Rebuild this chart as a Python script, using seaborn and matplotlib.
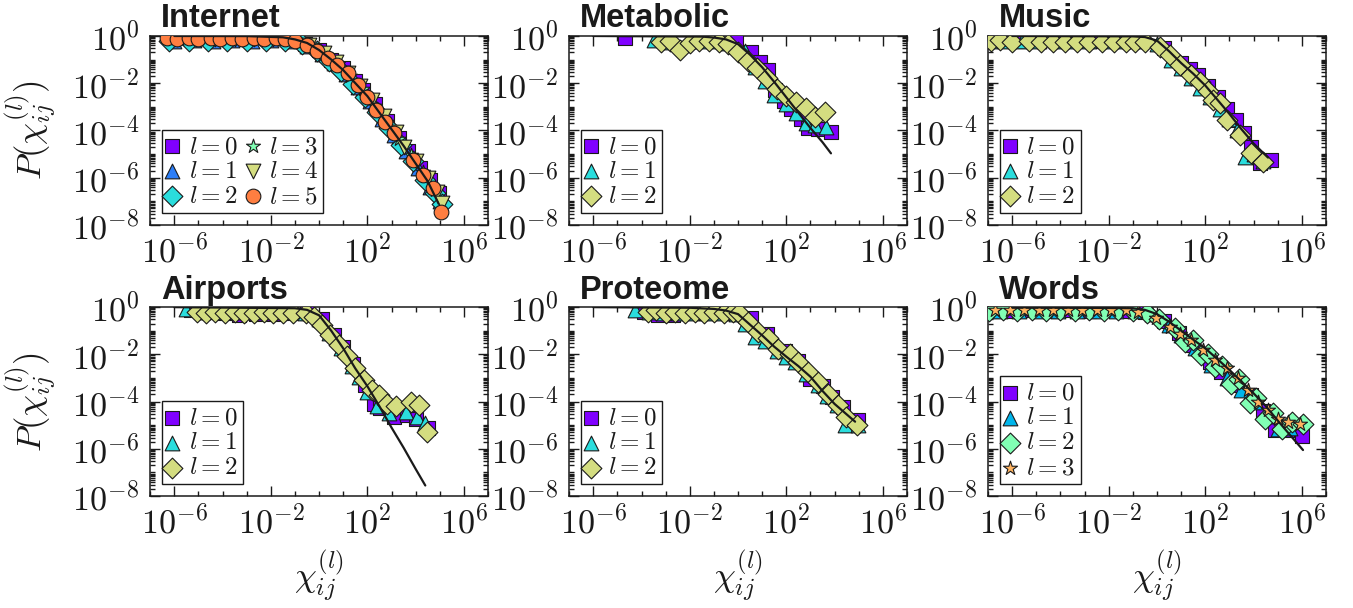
import matplotlib
matplotlib.use("Agg")
import matplotlib.pyplot as plt
import matplotlib.ticker as mticker
import numpy as np
import seaborn as sns

# values are log10 of x and y

# Internet, l = 0..5
internet_logx = [
    [-6.1, -5.3, -4.5, -3.7, -2.9, -2.1, -1.3, -0.6, 0.0, 0.5, 1.0, 1.5, 1.8, 2.3, 2.8, 3.3, 3.7, 4.2, 4.6, 4.95],
    [-6.0, -5.2, -4.4, -3.6, -2.8, -2.0, -1.2, -0.5, 0.1, 0.6, 1.1, 1.6, 2.1, 2.6, 3.1, 3.6, 4.1, 4.6, 5.0],
    [-6.2, -5.4, -4.6, -3.8, -3.0, -2.2, -1.4, -0.7, -0.1, 0.4, 0.9, 1.4, 1.9, 2.4, 2.9, 3.4, 3.9, 4.4, 4.8, 5.1],
    [-5.8, -5.0, -4.2, -3.4, -2.6, -1.8, -1.0, -0.3, 0.3, 0.8, 1.3, 1.8, 2.3, 2.8, 3.3, 3.8, 4.3, 4.8],
    [-5.9, -5.1, -4.3, -3.5, -2.7, -1.9, -1.1, -0.4, 0.2, 0.7, 1.2, 1.7, 2.2, 2.7, 3.2, 3.5, 4.0, 4.5, 4.9, 5.1],
    [-6.3, -5.9, -5.4, -5.0, -4.5, -4.1, -3.6, -3.2, -2.7, -2.3, -1.8, -1.4, -1.0, -0.5, -0.1, 0.35, 0.75,
     1.2, 1.6, 2.0, 2.35, 2.75, 3.1, 3.9, 4.3, 4.7, 5.05],
]
internet_logy = [
    [-0.15, -0.14, -0.15, -0.14, -0.15, -0.14, -0.18, -0.33, -0.6, -1.0, -1.38, -1.9, -2.3, -2.9, -3.6, -4.3, -4.85, -5.6, -6.1, -6.65],
    [-0.2, -0.19, -0.2, -0.19, -0.2, -0.19, -0.22, -0.42, -0.75, -1.15, -1.6, -2.15, -2.75, -3.5, -4.2, -4.85, -5.6, -6.4, -7.0],
    [-0.2, -0.21, -0.2, -0.21, -0.2, -0.21, -0.22, -0.35, -0.65, -1.05, -1.5, -2.05, -2.6, -3.2, -3.9, -4.6, -5.3, -6.1, -6.65, -7.1],
    [-0.14, -0.15, -0.14, -0.15, -0.14, -0.15, -0.17, -0.4, -0.8, -1.2, -1.7, -2.25, -2.95, -3.65, -4.35, -5.05, -5.75, -6.5],
    [-0.12, -0.13, -0.12, -0.13, -0.12, -0.13, -0.15, -0.38, -0.72, -1.1, -1.55, -2.1, -2.7, -3.4, -4.05, -4.69, -5.3, -6.0, -6.6, -7.06],
    [-0.1, -0.12, -0.1, -0.12, -0.1, -0.12, -0.1, -0.12, -0.1, -0.12, -0.1, -0.12, -0.2, -0.38, -0.66, -0.95, -1.23,
     -1.58, -2.08, -2.57, -3.14, -3.63, -4.12, -5.25, -5.89, -6.45, -7.44],
]
internet_fit_logx = [-6.0, -3.0, -1.5, -1.0, -0.5, 0.0, 0.5, 1.0, 1.5, 2.0, 2.5, 3.0, 3.5, 4.0, 4.5, 4.95]
internet_fit_logy = [-0.005, -0.01, -0.06, -0.15, -0.3, -0.6, -1.0, -1.45, -2.0, -2.55, -3.25, -3.95, -4.65, -5.4, -6.15, -7.1]

# Metabolic, l = 0..2
metabolic_logx = [
    [-4.7, -3.0, -1.5, -0.1, 0.55, 0.9, 1.25, 1.55, 1.9, 2.2, 2.6, 2.9, 3.3, 3.85],
    [-3.5, -2.8, -2.0, -1.2, -0.4, 0.3, 0.7, 1.1, 1.5, 2.0, 2.4, 2.8, 3.2, 3.65],
    [-3.2, -2.8, -2.4, -2.0, -1.6, -1.2, -0.8, -0.4, 0.0, 0.4, 0.8, 1.2, 1.6, 2.0, 2.4, 2.8, 3.2, 3.6],
]
metabolic_logy = [
    [-0.1, -0.12, -0.12, -0.2, -0.7, -1.1, -1.45, -2.3, -2.75, -3.1, -3.5, -3.9, -3.95, -4.05],
    [-0.17, -0.24, -0.2, -0.2, -0.3, -0.65, -1.3, -1.9, -2.5, -2.9, -3.25, -3.7, -3.75, -3.85],
    [-0.28, -0.2, -0.59, -0.3, -0.2, -0.22, -0.24, -0.35, -0.7, -1.05, -1.35, -1.8, -2.25, -2.55, -2.8, -3.05, -3.45, -3.2],
]
metabolic_fit_logx = [-6.0, -1.5, -1.0, -0.5, 0.0, 0.5, 1.0, 1.5, 2.0, 2.5, 3.0, 3.5, 3.85]
metabolic_fit_logy = [-0.005, -0.03, -0.07, -0.15, -0.35, -0.8, -1.33, -1.95, -2.6, -3.25, -3.9, -4.5, -4.97]

# Music, l = 0..2
music_logx = [
    [-6.9, -5.5, -4.0, -2.5, -1.0, 0.3, 1.0, 1.35, 1.7, 2.1, 2.53, 2.9, 3.29, 3.6, 3.91, 4.26, 4.74],
    [-6.9, -6.3, -5.6, -4.9, -4.2, -3.5, -2.8, -2.1, -1.4, -0.7, 0.0, 0.6, 1.0, 1.4, 1.8, 2.2, 2.6, 3.0, 3.3, 3.64, 4.0, 4.4],
    [-6.88, -6.5, -6.0, -5.3, -4.8, -4.3, -3.8, -3.3, -2.8, -2.3, -1.8, -1.3, -0.9, -0.5, 0.11, 0.52, 0.94,
     1.42, 1.77, 2.1, 2.32, 2.6, 2.88, 3.43, 3.91, 4.4],
]
music_logy = [
    [-0.17, -0.2, -0.2, -0.2, -0.2, -0.5, -1.16, -1.4, -1.65, -2.1, -2.57, -3.1, -3.56, -4.1, -4.69, -5.39, -5.25],
    [-0.2, -0.22, -0.2, -0.22, -0.2, -0.22, -0.2, -0.22, -0.2, -0.22, -0.35, -1.02, -1.35, -1.8, -2.2, -2.6, -3.1, -3.5, -4.0, -5.11, -5.0, -5.3],
    [-0.2, -0.17, -0.24, -0.2, -0.24, -0.24, -0.24, -0.24, -0.24, -0.24, -0.24, -0.24, -0.24, -0.25, -0.45, -0.8, -1.23,
     -1.65, -1.94, -2.35, -2.71, -2.85, -3.56, -4.19, -4.97, -5.33],
]
music_fit_logx = [-6.0, -1.0, -0.5, 0.0, 0.5, 1.0, 1.5, 2.0, 2.5, 3.0, 3.5, 4.0, 4.6]
music_fit_logy = [-0.005, -0.02, -0.05, -0.2, -0.65, -1.15, -1.6, -2.1, -2.7, -3.3, -3.95, -4.55, -5.15]

# Airports, l = 0..2
airports_logx = [
    [-5.3, -4.6, -3.9, -3.3, -2.6, -1.9, -1.2, -0.5, 0.1, 0.6, 1.0, 1.4, 1.92, 2.27, 2.54, 3.1, 3.65, 4.0, 4.5],
    [-5.5, -4.8, -4.1, -3.4, -2.7, -2.0, -1.3, -0.6, 0.0, 0.4, 0.9, 1.35, 1.65, 2.0, 2.4, 2.89, 3.58, 4.07, 4.4],
    [-5.06, -4.7, -4.3, -3.9, -3.5, -3.1, -2.7, -2.3, -1.9, -1.5, -1.1, -0.55, -0.2, 0.12, 0.47, 0.81, 1.16,
     1.5, 1.85, 2.2, 2.5, 2.82, 3.17, 3.79, 4.14, 4.48],
]
airports_logy = [
    [-0.13, -0.2, -0.27, -0.34, -0.3, -0.3, -0.27, -0.27, -0.5, -1.19, -1.7, -2.4, -3.3, -4.1, -4.29, -4.65, -4.58, -4.75, -5.1],
    [-0.1, -0.2, -0.2, -0.2, -0.2, -0.2, -0.2, -0.25, -0.5, -1.1, -1.75, -2.5, -2.95, -3.59, -4.2, -4.5, -4.43, -4.65, -4.9],
    [-0.2, -0.24, -0.2, -0.24, -0.2, -0.24, -0.24, -0.2, -0.24, -0.24, -0.24, -0.27, -0.42, -0.76, -1.2, -1.6, -2.09,
     -2.6, -3.1, -3.5, -3.73, -4.1, -4.2, -4.0, -4.15, -5.28],
]
airports_fit_logx = [-6.0, -1.0, -0.5, 0.0, 0.5, 1.0, 1.5, 2.0, 2.5, 3.0, 3.5, 4.0, 4.4]
airports_fit_logy = [-0.005, -0.05, -0.12, -0.35, -1.0, -1.75, -2.6, -3.35, -4.2, -5.1, -5.95, -6.85, -7.55]

# Proteome, l = 0..2
proteome_logx = [
    [-3.9, -3.3, -2.7, -2.1, -1.5, -0.9, -0.3, 0.55, 1.2, 1.93, 2.5, 2.97, 3.5, 3.9, 4.36, 4.98],
    [-4.29, -3.7, -3.1, -2.5, -1.9, -1.3, -0.7, -0.1, 0.3, 0.69, 1.1, 1.6, 2.0, 2.35, 2.8, 3.3, 3.7, 4.1, 4.43, 4.95],
    [-3.73, -3.4, -3.0, -2.6, -2.2, -1.8, -1.4, -1.0, -0.6, -0.2, 0.05, 0.42, 0.83, 1.24, 1.66, 2.14, 2.49,
     2.9, 3.32, 3.73, 4.15, 4.49, 4.91],
]
proteome_logy = [
    [-0.2, -0.34, -0.34, -0.27, -0.27, -0.24, -0.24, -0.48, -1.15, -1.84, -2.3, -3.03, -3.35, -3.8, -4.22, -4.79],
    [-0.13, -0.2, -0.24, -0.27, -0.24, -0.24, -0.24, -0.3, -0.7, -1.26, -1.45, -1.85, -2.1, -2.33, -2.85, -3.3, -3.75, -4.15, -5.0, -5.0],
    [-0.2, -0.13, -0.27, -0.2, -0.27, -0.2, -0.27, -0.2, -0.24, -0.2, -0.27, -0.62, -1.05, -1.33, -1.76, -1.98, -2.33,
     -2.75, -3.16, -3.66, -4.15, -4.65, -5.0],
]
proteome_fit_logx = [-6.0, -2.0, -1.0, -0.5, 0.0, 0.5, 1.0, 1.5, 2.0, 2.5, 3.0, 3.5, 4.0, 4.85]
proteome_fit_logy = [-0.005, -0.03, -0.08, -0.15, -0.3, -0.75, -1.2, -1.68, -2.1, -2.5, -2.95, -3.55, -4.1, -4.85]

# Words, l = 0..3
words_logx = [
    [-6.8, -6.0, -5.2, -4.4, -3.6, -2.8, -2.0, -1.2, -0.5, 0.3, 0.9, 1.5, 2.18, 2.67, 3.3, 3.91, 4.4, 4.88, 5.4, 5.99],
    [-6.5, -5.7, -4.9, -4.1, -3.3, -2.5, -1.7, -0.9, -0.2, 0.5, 1.0, 1.56, 2.25, 2.9, 3.5, 4.1, 4.6, 5.02, 5.5],
    [-6.95, -6.4, -5.8, -5.2, -4.6, -4.0, -3.4, -2.8, -2.2, -1.6, -1.0, -0.4, 0.1, 0.73, 1.15, 1.5, 1.84, 2.1,
     2.39, 2.7, 3.08, 3.4, 3.84, 4.1, 4.47, 4.8, 5.16, 5.6, 6.06],
    [-6.7, -6.1, -5.5, -4.9, -4.3, -3.7, -3.1, -2.5, -1.9, -1.3, -0.79, -0.03, 0.52, 0.94, 1.42, 1.91, 2.39,
     2.88, 3.36, 3.78, 4.19, 4.61, 5.02, 5.44, 5.92],
]
words_logy = [
    [-0.13, -0.15, -0.13, -0.15, -0.13, -0.15, -0.13, -0.15, -0.2, -0.6, -1.1, -1.6, -2.33, -2.75, -3.3, -3.73, -4.4, -5.21, -5.2, -5.45],
    [-0.15, -0.17, -0.15, -0.17, -0.15, -0.17, -0.15, -0.17, -0.3, -0.75, -1.2, -1.75, -2.46, -3.0, -3.5, -4.0, -4.6, -5.14, -5.1],
    [-0.15, -0.12, -0.15, -0.12, -0.15, -0.12, -0.15, -0.12, -0.15, -0.12, -0.15, -0.25, -0.5, -0.9, -1.47, -1.4, -2.05, -2.0,
     -2.54, -2.5, -3.24, -3.05, -4.08, -3.85, -4.72, -4.5, -5.14, -4.85, -4.93],
    [-0.12, -0.14, -0.12, -0.14, -0.12, -0.14, -0.12, -0.14, -0.12, -0.14, -0.2, -0.48, -0.83, -1.12, -1.4, -1.82, -2.25,
     -2.6, -3.02, -3.52, -4.01, -4.36, -4.72, -4.86, -4.93],
]
words_fit_logx = [-6.0, -1.0, -0.5, 0.0, 0.5, 1.0, 1.5, 2.0, 2.5, 3.0, 3.5, 4.0, 4.5, 5.0, 5.5, 6.05]
words_fit_logy = [-0.005, -0.05, -0.12, -0.3, -0.62, -1.0, -1.38, -1.75, -2.2, -2.66, -3.15, -3.65, -4.18, -4.8, -5.4, -6.05]

markers = ['s', '^', 'D', '*', 'v', 'o']

panels = [
    ("Internet", internet_logx, internet_logy, internet_fit_logx, internet_fit_logy, 2),
    ("Metabolic", metabolic_logx, metabolic_logy, metabolic_fit_logx, metabolic_fit_logy, 1),
    ("Music", music_logx, music_logy, music_fit_logx, music_fit_logy, 1),
    ("Airports", airports_logx, airports_logy, airports_fit_logx, airports_fit_logy, 1),
    ("Proteome", proteome_logx, proteome_logy, proteome_fit_logx, proteome_fit_logy, 1),
    ("Words", words_logx, words_logy, words_fit_logx, words_fit_logy, 1),
]

sns.set_theme(style="ticks", rc={"axes.edgecolor": "k", "xtick.color": "k", "ytick.color": "k",
                                 "text.color": "k", "axes.labelcolor": "k", "axes.linewidth": 1.1})
plt.rcParams["font.family"] = ["DejaVu Serif"]
plt.rcParams["mathtext.fontset"] = "cm"

fig, axes = plt.subplots(2, 3, figsize=(13.53, 6.08), dpi=100)
fig.subplots_adjust(left=0.111, right=0.980, top=0.941, bottom=0.184, wspace=0.24, hspace=0.434)

fmt = mticker.FuncFormatter(lambda v, p: r"$10^{%d}$" % int(round(np.log10(v))))

for k, (ax, (title, lx, ly, fx, fy, ncol)) in enumerate(zip(axes.flat, panels)):
    n = len(lx)
    colors = plt.cm.rainbow(np.arange(n) / n)
    for i in range(n):
        sns.scatterplot(x=10.0 ** np.array(lx[i]), y=10.0 ** np.array(ly[i]), ax=ax,
                        marker=markers[i], s=112, color=tuple(colors[i]), edgecolor="k",
                        linewidth=0.8, label=rf"$l = {i}$", zorder=3 + i)
    sns.lineplot(x=10.0 ** np.array(fx), y=10.0 ** np.array(fy), ax=ax, color="k",
                 lw=1.6, sort=False, estimator=None, zorder=20)

    ax.set_xscale("log")
    ax.set_yscale("log")
    ax.set_xlim(1e-7, 1e7)
    ax.set_ylim(1e-8, 1)
    ax.xaxis.set_major_locator(mticker.FixedLocator([1e-6, 1e-2, 1e2, 1e6]))
    ax.xaxis.set_minor_locator(mticker.FixedLocator([10.0 ** e for e in range(-7, 8)]))
    ax.yaxis.set_major_locator(mticker.FixedLocator([10.0 ** e for e in range(-8, 1, 2)]))
    ax.yaxis.set_minor_locator(mticker.LogLocator(base=10, subs=np.arange(1, 10) * 1.0, numticks=100))
    ax.xaxis.set_major_formatter(fmt)
    ax.yaxis.set_major_formatter(fmt)
    ax.xaxis.set_minor_formatter(mticker.NullFormatter())
    ax.yaxis.set_minor_formatter(mticker.NullFormatter())
    ax.tick_params(which="both", direction="in", top=True, right=True, labelsize=24.5, width=1, color="k")
    ax.tick_params(which="major", length=7)
    ax.tick_params(which="minor", length=3.5)
    ax.tick_params(axis="x", pad=6)
    ax.tick_params(axis="y", pad=8)

    ax.text(0.033, 1.045, title, transform=ax.transAxes, family="Liberation Sans",
            weight="bold", fontsize=23.5, color="k", ha="left", va="baseline")

    leg = ax.legend(loc="lower left", bbox_to_anchor=(0.036, 0.063), borderaxespad=0, ncol=ncol,
                    fontsize=18, frameon=True, fancybox=False, edgecolor="k", framealpha=1,
                    handlelength=0.4, handletextpad=0.45, borderpad=0.2, labelspacing=0.08,
                    columnspacing=0.4)
    leg.get_frame().set_linewidth(1.0)

    if k % 3 == 0:
        ax.set_ylabel(r"$P(\chi_{ij}^{(l)})$", fontsize=25, labelpad=10)
    else:
        ax.set_ylabel("")
    if k >= 3:
        ax.set_xlabel(r"$\chi_{ij}^{(l)}$", fontsize=25, labelpad=6)
    else:
        ax.set_xlabel("")

fig.savefig("out.png", dpi=100)
